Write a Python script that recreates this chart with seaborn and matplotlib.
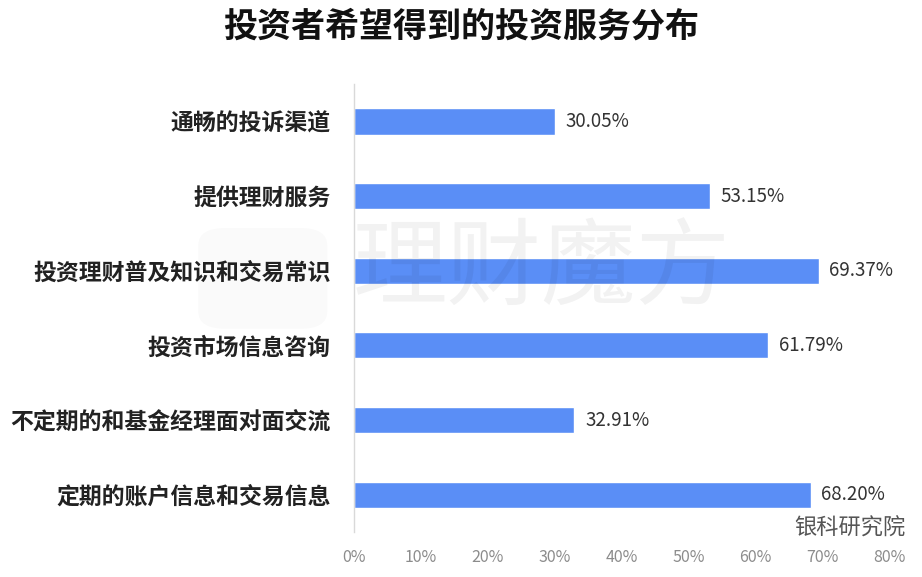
import numpy as np
from matplotlib import pyplot as plt
from matplotlib.patches import FancyBboxPatch
import seaborn as sns
import pandas as pd

categories = ['通畅的投诉渠道', '提供理财服务', '投资理财普及知识和交易常识',
              '投资市场信息咨询', '不定期的和基金经理面对面交流', '定期的账户信息和交易信息']
values = [30.05, 53.15, 69.37, 61.79, 32.91, 68.20]
xticks = [0, 10, 20, 30, 40, 50, 60, 70, 80]

sns.set_style('white')
plt.rcParams['font.family'] = ['Noto Sans CJK SC', 'DejaVu Sans']

df = pd.DataFrame({'category': categories, 'value': values})

fig = plt.figure(figsize=(9.22, 5.77), dpi=100)
ax = fig.add_axes([0.384, 0.078, 0.581, 0.776])

sns.barplot(data=df, y='category', x='value', color='#5a8ef6', width=0.35,
            saturation=1, ax=ax, orient='h')

for i, v in enumerate(values):
    ax.text(v + 1.6, i, '%.2f%%' % v, va='center', ha='left',
            fontsize=13.5, color='#333333')

ax.set_xlim(0, 80)
ax.set_xticks(xticks)
ax.set_xticklabels(['%d%%' % t for t in xticks], color='#8c8c8c', fontsize=11.5)
ax.tick_params(axis='x', length=0, pad=12)
ax.tick_params(axis='y', length=0, pad=17)
for lab in ax.get_yticklabels():
    lab.set_fontsize(16.5)
    lab.set_fontweight('bold')
    lab.set_color('#222222')
ax.set_xlabel('')
ax.set_ylabel('')
for s in ['top', 'right', 'bottom']:
    ax.spines[s].set_visible(False)
ax.spines['left'].set_color('#d9d9d9')
ax.spines['left'].set_linewidth(1)

# watermark
fig.text(0.588, 0.53, '理财魔方', fontsize=68, color='#000000', alpha=0.05,
         ha='center', va='center', zorder=10)
fig.patches.append(FancyBboxPatch((0.215, 0.43), 0.14, 0.175,
                                  boxstyle='round,pad=0,rounding_size=0.03',
                                  transform=fig.transFigure, facecolor='#000000',
                                  alpha=0.018, edgecolor='none', zorder=0))
fig.text(0.982, 0.085, '银科研究院', fontsize=16, color='#555555',
         ha='right', va='center')

fig.suptitle('投资者希望得到的投资服务分布', fontsize=24.5, fontweight='bold',
             y=0.985, color='#111111')

fig.savefig('out.png', dpi=100)
